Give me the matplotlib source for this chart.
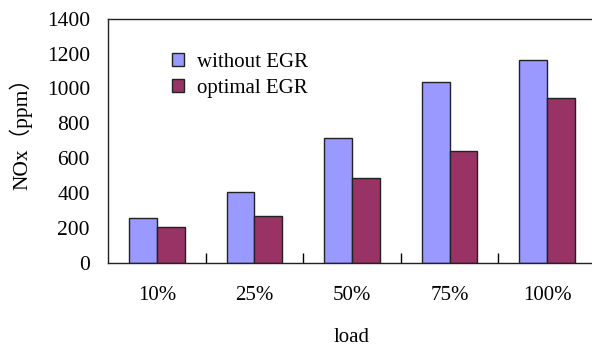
import matplotlib
matplotlib.use("Agg")
import matplotlib.pyplot as plt
import numpy as np

# datos
cargas = ['10%', '25%', '50%', '75%', '100%']
sem_egr = [255, 404, 717, 1037, 1161]
egr_otimo = [203, 270, 484, 641, 945]

plt.rcParams['font.family'] = ['Liberation Serif', 'Noto Sans CJK SC']

fig = plt.figure(figsize=(5.92, 3.47), dpi=100)
ax = fig.add_axes([108 / 592, 84.3 / 347, 488 / 592, 244 / 347])

x = np.arange(len(cargas))
larg = 0.285
ax.bar(x - larg / 2, sem_egr, larg, color='#9999FF', edgecolor='#222222',
       linewidth=1, label='without EGR')
ax.bar(x + larg / 2, egr_otimo, larg, color='#993366', edgecolor='#222222',
       linewidth=1, label='optimal EGR')

ax.set_xlim(-0.5, len(cargas) - 0.5)
ax.set_ylim(0, 1400)
ax.set_yticks(range(0, 1401, 200))
ax.tick_params(axis='y', length=0, labelsize=15.5, pad=13)

# marcas do eixo x entre as categorias
ax.set_xticks(np.arange(0.5, len(cargas) - 1, 1))
ax.set_xticklabels([])
ax.tick_params(axis='x', which='major', direction='in', length=7, width=1)
ax.set_xticks(x, minor=True)
ax.set_xticklabels(cargas, minor=True)
ax.tick_params(axis='x', which='minor', length=0, labelsize=15, pad=17)

for s in ax.spines.values():
    s.set_linewidth(1)
    s.set_color('#222222')

ax.set_ylabel('NOx（ppm）', fontsize=15.5)
ax.yaxis.set_label_coords(-0.155, 0.55)
ax.set_xlabel('load', fontsize=15, labelpad=16)

ax.legend(loc='upper left', bbox_to_anchor=(0.114, 0.894), frameon=False,
          fontsize=15, handlelength=0.6, handleheight=0.6, handletextpad=0.6,
          labelspacing=0.35, borderaxespad=0)

fig.savefig('out.png', dpi=100)
